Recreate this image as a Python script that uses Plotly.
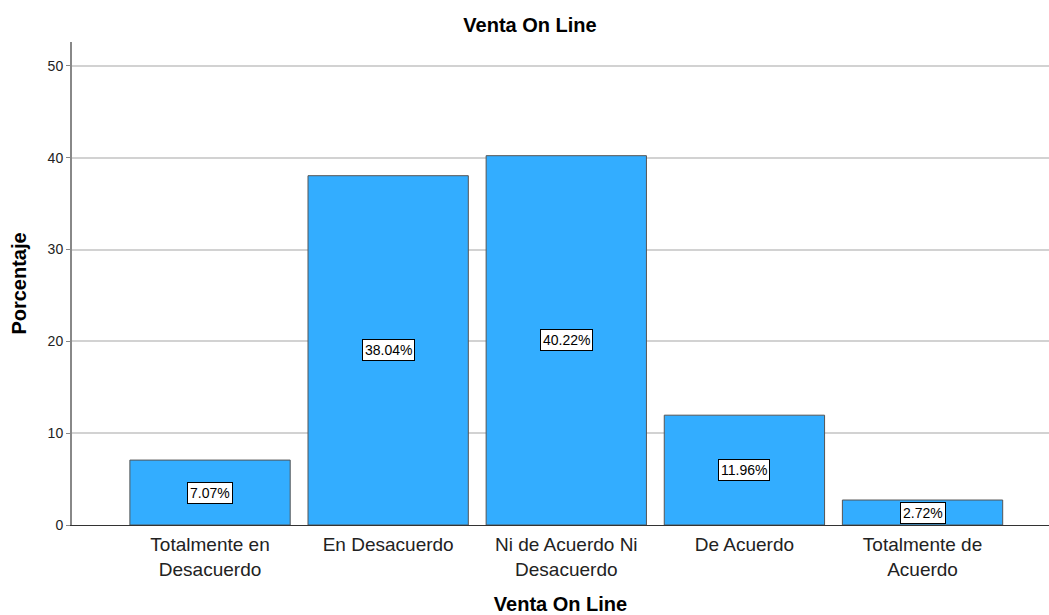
import plotly.graph_objects as go

categories = ["Totalmente en<br>Desacuerdo", "En Desacuerdo", "Ni de Acuerdo Ni<br>Desacuerdo", "De Acuerdo", "Totalmente de<br>Acuerdo"]
values = [7.07, 38.04, 40.22, 11.96, 2.72]
labels = ["7.07%", "38.04%", "40.22%", "11.96%", "2.72%"]
y_ticks = [0, 10, 20, 30, 40, 50]

FONT = "Liberation Sans, Arial, sans-serif"

fig = go.Figure()
fig.add_trace(go.Bar(
    x=list(range(len(categories))), y=values, width=0.9,
    marker=dict(color="#33adff", line=dict(color="#555555", width=1)),
    hoverinfo="skip",
))

for i, (v, t) in enumerate(zip(values, labels)):
    fig.add_annotation(x=i, y=v / 2, text=t, showarrow=False,
                       font=dict(family=FONT, size=14, color="#000"),
                       bgcolor="white", bordercolor="#000", borderwidth=1, borderpad=2)

fig.update_layout(
    width=1049, height=615,
    margin=dict(l=72, r=0, t=42, b=90),
    paper_bgcolor="white", plot_bgcolor="white",
    showlegend=False,
    font=dict(family=FONT, color="#222"),
    title=dict(text="<b>Venta On Line</b>", x=530 / 1049, xanchor="center", xref="container",
               y=1 - 25 / 615, yanchor="middle", yref="container",
               font=dict(family=FONT, size=20, color="#000")),
)
fig.update_xaxes(
    range=[-0.775, 4.71], tickmode="array", tickvals=list(range(len(categories))),
    ticktext=categories, showgrid=False, zeroline=False,
    showline=True, linecolor="#333", linewidth=1, ticks="",
    ticklabelstandoff=2,
    tickfont=dict(family=FONT, size=19, color="#222"),
    title=dict(text="<b>Venta On Line</b>", standoff=18, font=dict(family=FONT, size=20, color="#000")),
)
fig.update_yaxes(
    range=[0, 52.6], tickvals=y_ticks, showgrid=True, gridcolor="#d2d2d2", gridwidth=2,
    zeroline=False, showline=True, linecolor="#888", linewidth=2,
    ticks="outside", ticklen=4, tickcolor="#888",
    tickfont=dict(family=FONT, size=14, color="#222"),
    title=dict(text="<b>Porcentaje</b>", standoff=16, font=dict(family=FONT, size=20, color="#000")),
)

fig.write_html("out.html")
